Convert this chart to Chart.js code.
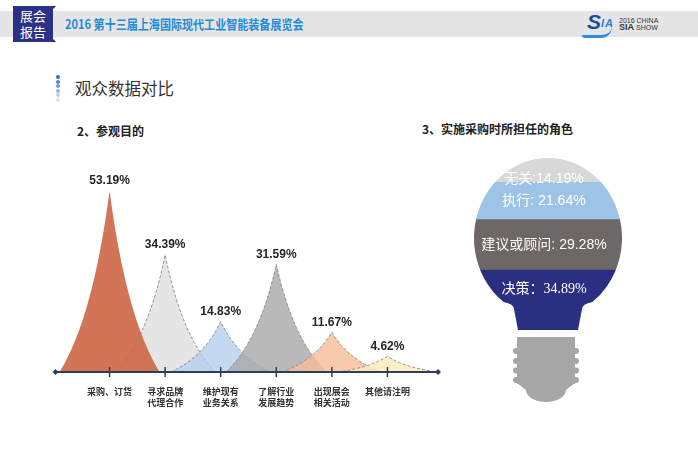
<!DOCTYPE html>
<html lang="zh">
<head>
<meta charset="UTF-8">
<title>观众数据对比</title>
<script src="https://cdn.jsdelivr.net/npm/chart.js"></script>
<style>
  html, body { margin: 0; padding: 0; background: #fff; width: 698px; height: 462px; overflow: hidden;
    font-family: "Noto Sans CJK SC", "Noto Sans", sans-serif; }
  .abs { position: absolute; }
  #band { left: 0; top: 11px; width: 698px; height: 26px; background: #e6e5e6; }
  #tag { left: 13px; top: 6px; width: 40px; height: 36px; background: #2b3285; color: #fff;
    font-size: 13px; line-height: 16px; text-align: center; padding-top: 2px; box-sizing: border-box; }
  #tag:before, #tag:after { content: ""; position: absolute; right: -3px; width: 0; height: 0; }
  #tag:before { top: 0; border-left: 3px solid #1d1d2a; border-bottom: 3px solid transparent; }
  #tag:after { bottom: 0; border-left: 3px solid #1d1d2a; border-top: 3px solid transparent; }
  #title { left: 65px; top: 16px; font-size: 13px; line-height: 16px; font-weight: bold; color: #258ad6;
    white-space: nowrap; transform: scaleX(0.85); transform-origin: left center; }
  #logo { left: 582px; top: 9px; width: 36px; height: 28px; }
  #logo .s { position: absolute; left: 5px; top: 1px; font: italic bold 21px "Liberation Sans", sans-serif; color: #1c4c9c; }
  #logo .ia { position: absolute; left: 19px; top: 8px; font: italic bold 11px "Liberation Sans", sans-serif; color: #2a7fd0; letter-spacing: 1px; }
  #logo .sw { position: absolute; left: 0; top: 18px; width: 30px; height: 8px; border-bottom: 3px solid #2d8fdc; border-radius: 0 0 40px 10px; }
  #logoText { left: 619px; top: 17px; font: 7px/7px "Liberation Sans", sans-serif; color: #333; }
  #logoText b { font-size: 9px; }
  #head { left: 75px; top: 77px; font-size: 16.5px; line-height: 22px; color: #333; }
  .dot { position: absolute; left: 55.5px; width: 4px; height: 4px; border-radius: 2px; }
  .sub { font-size: 12px; line-height: 16px; font-weight: bold; color: #222; white-space: nowrap; }
  #purposeBox { left: 40px; top: 150px; width: 420px; height: 280px; }
  #roleBox { left: 458px; top: 150px; width: 180px; height: 262px; }
</style>
</head>
<body>
<div id="band" class="abs"></div>
<div id="tag" class="abs">展会<br>报告</div>
<div id="title" class="abs">2016 第十三届上海国际现代工业智能装备展览会</div>
<div id="logo" class="abs"><span class="sw"></span><span class="s">S</span><span class="ia">IA</span></div>
<div id="logoText" class="abs">2016 CHINA<br><b>SIA</b> SHOW</div>

<div class="dot" style="top:75px;background:#2c6fc6"></div>
<div class="dot" style="top:79.5px;background:#4a86d3"></div>
<div class="dot" style="top:84px;background:#6d9edc"></div>
<div class="dot" style="top:88.5px;background:#93b6e5"></div>
<div class="dot" style="top:93px;background:#b7cdee"></div>
<div class="dot" style="top:97.5px;background:#d6e2f5"></div>
<div id="head" class="abs">观众数据对比</div>

<div class="abs sub" style="left:77px;top:123px">2、参观目的</div>
<div class="abs sub" style="left:422px;top:120.5px">3、实施采购时所担任的角色</div>

<div id="purposeBox" class="abs"><canvas id="purposeChart"></canvas></div>
<div id="roleBox" class="abs"><canvas id="roleChart"></canvas></div>

<script>
// 2、参观目的
var purposeLabels = [['采购、订货'], ['寻求品牌', '代理合作'], ['维护现有', '业务关系'],
                     ['了解行业', '发展趋势'], ['出现展会', '相关活动'], ['其他请注明']];
var purposeValues = [53.19, 34.39, 14.83, 31.59, 11.67, 4.62];
var peakColors = ['rgba(204,102,68,0.9)', 'rgba(222,222,222,0.8)', 'rgba(176,204,236,0.75)',
                  'rgba(168,168,168,0.8)', 'rgba(246,188,150,0.8)', 'rgba(252,236,190,0.85)'];
// the first peak sits on top of the others
var drawOrder = [1, 2, 3, 4, 5, 0];

// 3、实施采购时所担任的角色 (bottom to top)
var roleNames = ['决策', '建议或顾问', '执行', '无关'];
var roleSeps = ['：', ': ', ': ', ':'];
var roleValues = [34.89, 29.28, 21.64, 14.19];
var roleColors = ['#2a2f82', '#6d6765', '#9dc3e6', '#d8d8d8'];

var axisColor = '#2e3d5c';

// concave "peak" shapes drawn on the bar positions, plus axis and value labels
var peakPlugin = {
  id: 'peaks',
  beforeDatasetDraw: function(chart, args) {
    var ctx = chart.ctx;
    var xs = chart.scales.x;
    var step = xs.getPixelForValue(1) - xs.getPixelForValue(0);
    ctx.save();
    drawOrder.forEach(function(k) {
      var bar = args.meta.data[k + 1];
      var w = step * 0.9, h = bar.base - bar.y;
      ctx.beginPath();
      ctx.moveTo(bar.x - w, bar.base);
      ctx.quadraticCurveTo(bar.x - 0.33 * w, bar.base - 0.3 * h, bar.x, bar.y);
      ctx.quadraticCurveTo(bar.x + 0.33 * w, bar.base - 0.3 * h, bar.x + w, bar.base);
      ctx.closePath();
      ctx.fillStyle = peakColors[k];
      ctx.fill();
      if (k > 0) {
        ctx.setLineDash([3, 2]);
        ctx.strokeStyle = '#8c8c8c';
        ctx.lineWidth = 1;
        ctx.stroke();
        ctx.setLineDash([]);
      }
    });
    ctx.restore();
    return false;
  },
  afterDatasetsDraw: function(chart) {
    var ctx = chart.ctx, a = chart.chartArea;
    var xs = chart.scales.x;
    var base = chart.scales.y.getPixelForValue(0);
    var x0 = a.left + 1.5, x1 = a.right - 5;
    ctx.save();
    ctx.strokeStyle = axisColor;
    ctx.fillStyle = axisColor;
    ctx.lineWidth = 2;
    ctx.beginPath();
    ctx.moveTo(x0, base);
    ctx.lineTo(x1, base);
    ctx.stroke();
    [x0, x1].forEach(function(x) {
      ctx.beginPath();
      ctx.moveTo(x - 3, base);
      ctx.lineTo(x, base - 3);
      ctx.lineTo(x + 3, base);
      ctx.lineTo(x, base + 3);
      ctx.closePath();
      ctx.fill();
    });
    ctx.lineWidth = 1.5;
    for (var i = 1; i <= purposeValues.length; i++) {
      var tx = xs.getPixelForValue(i);
      ctx.beginPath();
      ctx.moveTo(tx, base - 5);
      ctx.lineTo(tx, base + 5);
      ctx.stroke();
    }
    // value labels
    var meta = chart.getDatasetMeta(0);
    ctx.font = 'bold 12px "Liberation Sans", Arial, sans-serif';
    ctx.fillStyle = '#262626';
    ctx.textAlign = 'center';
    ctx.textBaseline = 'middle';
    meta.data.forEach(function(bar, i) {
      var v = purposeValues[i - 1];
      if (v == null) return;
      ctx.fillText(v.toFixed(2) + '%', bar.x, bar.y - 10);
    });
    ctx.restore();
  }
};

new Chart(document.getElementById('purposeChart'), {
  type: 'bar',
  data: {
    labels: [''].concat(purposeLabels, ['']),
    datasets: [{
      data: [null].concat(purposeValues, [null]),
      backgroundColor: 'transparent'
    }]
  },
  options: {
    responsive: true,
    maintainAspectRatio: false,
    animation: false,
    layout: { padding: { left: 8.7, right: 17, top: 17.5, bottom: 8 } },
    plugins: { legend: { display: false }, tooltip: { enabled: false } },
    scales: {
      x: {
        offset: false,
        grid: { display: false, drawTicks: false },
        border: { display: false },
        ticks: {
          padding: 14,
          autoSkip: false,
          maxRotation: 0,
          color: '#333',
          font: { family: '"Noto Sans CJK SC", sans-serif', size: 9, weight: 'bold', lineHeight: 1.22 }
        }
      },
      y: { display: false, min: 0, max: 60 }
    }
  },
  plugins: [peakPlugin]
});

// light bulb: stacked bands clipped to a bulb outline
function bulbPath(ctx, a) {
  var cx = (a.left + a.right) / 2, rx = 74, ry = 80, cy = a.top + ry;
  var neckTop = a.bottom - 21;
  var t = Math.asin(0.8);
  ctx.beginPath();
  ctx.moveTo(cx - 30, a.bottom);
  ctx.lineTo(cx - 34, neckTop);
  ctx.quadraticCurveTo(cx - 34, neckTop - 5, cx - rx * Math.cos(t), cy + ry * Math.sin(t));
  ctx.ellipse(cx, cy, rx, ry, 0, Math.PI - t, t + 2 * Math.PI, false);
  ctx.quadraticCurveTo(cx + 34, neckTop - 5, cx + 34, neckTop);
  ctx.lineTo(cx + 30, a.bottom);
  ctx.closePath();
}

var bulbPlugin = {
  id: 'bulb',
  beforeDatasetsDraw: function(chart) {
    var ctx = chart.ctx;
    ctx.save();
    bulbPath(ctx, chart.chartArea);
    ctx.clip();
  },
  afterDatasetsDraw: function(chart) {
    var ctx = chart.ctx, a = chart.chartArea;
    ctx.restore();
    var cx = (a.left + a.right) / 2 - 2;
    var neckTop = a.bottom - 21;
    // screw base
    ctx.save();
    ctx.fillStyle = '#a6a6a6';
    var top = a.bottom + 7;
    ctx.fillRect(cx - 29, top, 58, 47);
    [14, 24, 33.5, 43].forEach(function(dy) {
      ctx.beginPath();
      ctx.roundRect(cx - 33, top + dy - 3, 66, 6, 3);
      ctx.fill();
    });
    ctx.beginPath();
    ctx.moveTo(cx - 29, top + 46);
    ctx.lineTo(cx + 29, top + 46);
    ctx.lineTo(cx + 20, top + 53);
    ctx.lineTo(cx - 20, top + 53);
    ctx.closePath();
    ctx.fill();
    ctx.beginPath();
    ctx.ellipse(cx, top + 53, 20, 12, 0, 0, Math.PI, false);
    ctx.fill();
    ctx.restore();
    // band labels
    ctx.save();
    ctx.fillStyle = '#fff';
    ctx.textAlign = 'center';
    ctx.textBaseline = 'middle';
    roleNames.forEach(function(name, i) {
      var bar = chart.getDatasetMeta(i).data[0];
      var bottom = Math.min(bar.base, neckTop);
      var y = Math.max((bar.y + bottom) / 2, a.top + 21);
      ctx.font = i === 0 ? '14px "Liberation Serif", "Noto Sans CJK SC", serif'
                         : '14px "Liberation Sans", "Noto Sans CJK SC", sans-serif';
      ctx.fillText(name + roleSeps[i] + roleValues[i].toFixed(2) + '%', (a.left + a.right) / 2 - 4, y);
    });
    ctx.restore();
  }
};

new Chart(document.getElementById('roleChart'), {
  type: 'bar',
  data: {
    labels: ['角色'],
    datasets: roleNames.map(function(name, i) {
      return { label: name, data: [roleValues[i]], backgroundColor: roleColors[i],
               borderWidth: 0, barPercentage: 1, categoryPercentage: 1 };
    })
  },
  options: {
    responsive: true,
    maintainAspectRatio: false,
    animation: false,
    layout: { padding: { left: 10, right: 10, top: 8, bottom: 82 } },
    plugins: { legend: { display: false }, tooltip: { enabled: false } },
    scales: {
      x: { stacked: true, display: false },
      y: { stacked: true, display: false, min: 0, max: 100 }
    }
  },
  plugins: [bulbPlugin]
});
</script>
</body>
</html>
